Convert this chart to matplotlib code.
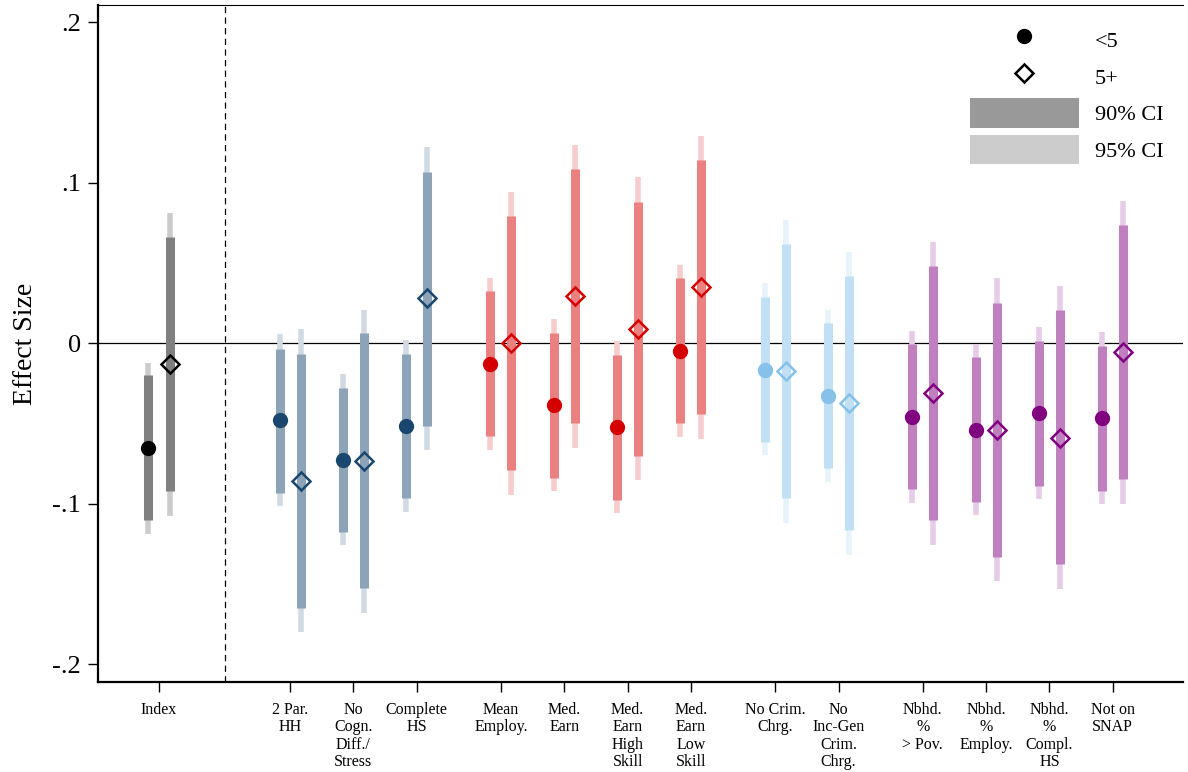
import matplotlib
matplotlib.use("Agg")
import matplotlib.pyplot as plt
from matplotlib.lines import Line2D
from matplotlib.patches import Patch
import numpy as np

plt.rcParams['font.family'] = ['Liberation Serif', 'DejaVu Serif']

# ---------------- data ----------------
labels = ["Index", "2 Par.\nHH", "No\nCogn.\nDiff./\nStress", "Complete\nHS",
          "Mean\nEmploy.", "Med.\nEarn", "Med.\nEarn\nHigh\nSkill", "Med.\nEarn\nLow\nSkill",
          "No Crim.\nChrg.", "No\nInc-Gen\nCrim.\nChrg.",
          "Nbhd.\n%\n> Pov.", "Nbhd.\n%\nEmploy.", "Nbhd.\n%\nCompl.\nHS", "Not on\nSNAP"]
group_sizes = [1, 3, 4, 2, 4]
group_colors = ["#000000", "#1a476f", "#d40000", "#85c1e9", "#800080"]

est_lt5 = [-0.065, -0.048, -0.0725, -0.0515, -0.0127, -0.0382, -0.0521, -0.0046,
           -0.0164, -0.0328, -0.0459, -0.0538, -0.0436, -0.0467]
lo90_lt5 = [-0.110, -0.0933, -0.1176, -0.0961, -0.0578, -0.0839, -0.0976, -0.0497,
            -0.0617, -0.0777, -0.0908, -0.0991, -0.0889, -0.092]
hi90_lt5 = [-0.0199, -0.0033, -0.0276, -0.0064, 0.0324, 0.0062, -0.0075, 0.0405,
            0.0287, 0.0125, -0.0004, -0.0087, 0.0012, -0.0017]
lo95_lt5 = [-0.1186, -0.1014, -0.1254, -0.105, -0.0667, -0.092, -0.1057, -0.0584,
            -0.0698, -0.0864, -0.0995, -0.107, -0.097, -0.1001]
hi95_lt5 = [-0.012, 0.0056, -0.0189, 0.0019, 0.0405, 0.015, 0.0012, 0.0486,
            0.0374, 0.0206, 0.0075, -0.0004, 0.010, 0.0069]

est_5p = [-0.0131, -0.0858, -0.0735, 0.0282, 0.0, 0.0295, 0.0091, 0.0351,
          -0.0174, -0.0374, -0.031, -0.0538, -0.0588, -0.0056]
lo90_5p = [-0.092, -0.1647, -0.1522, -0.0515, -0.0791, -0.0497, -0.0702, -0.0442,
           -0.0964, -0.1165, -0.1103, -0.1333, -0.1375, -0.0845]
hi90_5p = [0.0662, -0.0069, 0.0064, 0.1067, 0.0791, 0.1084, 0.0878, 0.114,
           0.0617, 0.0417, 0.048, 0.0249, 0.0206, 0.0735]
lo95_5p = [-0.1076, -0.1799, -0.168, -0.0662, -0.0945, -0.0652, -0.0854, -0.0596,
           -0.112, -0.1319, -0.1257, -0.1481, -0.1531, -0.1001]
hi95_5p = [0.0812, 0.0089, 0.0208, 0.1223, 0.0941, 0.1234, 0.1034, 0.129,
           0.0766, 0.0567, 0.063, 0.0405, 0.0355, 0.0885]

yticks = [-0.2, -0.1, 0.0, 0.1, 0.2]
ytick_labels = ["-.2", "-.1", "0", ".1", ".2"]


def mix(hex_color, alpha):
    c = np.array(matplotlib.colors.to_rgb(hex_color))
    return tuple(alpha * c + (1 - alpha) * np.ones(3))


# ---------------- layout ----------------
positions = []
cur = 0.0
for gi, n in enumerate(group_sizes):
    if gi == 1:
        cur += 2.07 - 1
    elif gi > 1:
        cur += 1.33 - 1
    for k in range(n):
        positions.append(cur)
        cur += 1
positions = np.array(positions)
colors = []
for c, n in zip(group_colors, group_sizes):
    colors += [c] * n

off = 0.166

fig = plt.figure(figsize=(11.88, 7.72), dpi=100)
ax = fig.add_axes([98 / 1188, 1 - 682 / 772, (1183 - 98) / 1188, (682 - 5) / 772])

ax.axhline(0, color="black", lw=0.9, zorder=1)
ax.axvline(1.04, color="black", lw=0.9, linestyle=(0, (5, 3.5)), zorder=1)

for i, x in enumerate(positions):
    col = colors[i]
    c90 = mix(col, 0.5)
    c95 = mix(col, 0.2)
    for xx, lo95, hi95, lo90, hi90 in [
        (x - off, lo95_lt5[i], hi95_lt5[i], lo90_lt5[i], hi90_lt5[i]),
        (x + off, lo95_5p[i], hi95_5p[i], lo90_5p[i], hi90_5p[i]),
    ]:
        ax.vlines(xx, lo95, hi95, colors=[c95], lw=4.0, capstyle="butt", zorder=2)
        ax.vlines(xx, lo90, hi90, colors=[c90], lw=6.5, capstyle="butt", zorder=3)
    ax.plot(x - off, est_lt5[i], marker="o", ms=11, mew=0, color=col,
            linestyle="none", zorder=5)
    ax.plot(x + off, est_5p[i], marker="D", ms=9.0, mew=1.8, mfc="none", mec=col,
            linestyle="none", zorder=5)

ax.set_xlim((98 - 159) / 63.33, (1183 - 159) / 63.33)
ax.set_ylim(-0.211, 0.2108)

ax.set_xticks(positions)
ax.set_xticklabels(labels, fontsize=11.5, linespacing=1.1)
ax.set_yticks(yticks)
ax.set_yticklabels(ytick_labels, fontsize=19)
ax.tick_params(axis="x", length=7.5, width=1.0, pad=7)
ax.tick_params(axis="y", length=7.5, width=1.0, pad=5)

ax.set_ylabel("Effect Size", fontsize=20)
ax.yaxis.set_label_coords(-0.055, 0.5)

for s in ["left", "bottom"]:
    ax.spines[s].set_linewidth(1.6)
ax.spines["top"].set_linewidth(0.8)
ax.spines["right"].set_visible(False)

handles = [
    Line2D([], [], marker="o", ms=11, mew=0, color="black", linestyle="none"),
    Line2D([], [], marker="D", ms=9.0, mew=1.8, mfc="none", mec="black", linestyle="none"),
    Patch(facecolor="#999999", edgecolor="none"),
    Patch(facecolor="#cccccc", edgecolor="none"),
]
leg = ax.legend(handles, ["<5", "5+", "90% CI", "95% CI"], loc="upper left",
                bbox_to_anchor=(0.8037, 0.9697), frameon=False, fontsize=16,
                handlelength=4.9, handleheight=1.64, labelspacing=0.33,
                handletextpad=0.72, borderpad=0, borderaxespad=0)

fig.savefig("out.png", dpi=100)
